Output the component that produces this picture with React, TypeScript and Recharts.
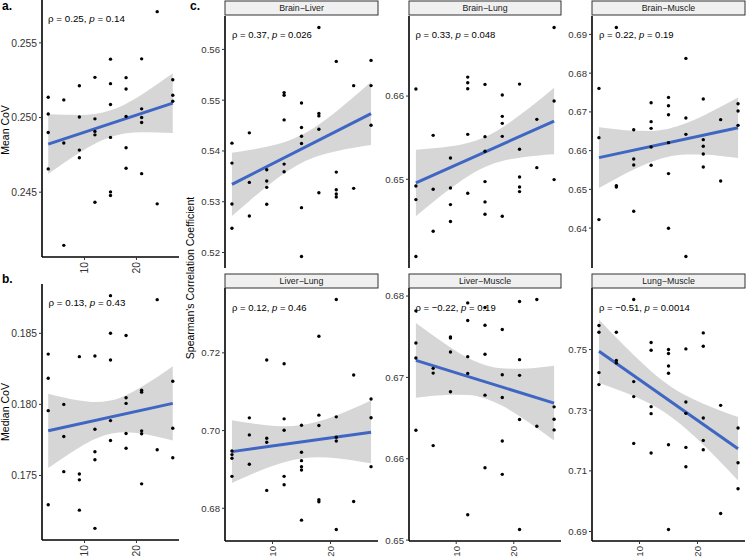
import { ComposedChart, XAxis, YAxis, Scatter, Area, Line } from "recharts";

const FONT = '"Liberation Sans", Arial, sans-serif';

// x positions shared by every panel
const xDomain = [1.8, 28.2];
const xTicks = [10, 20];
const bandX = [3, 6, 9, 12, 15, 18, 21, 24, 27];
const fitX = [3, 27];

// a. Mean CoV
const meanCovPts = [
  [3, 0.25136], [3, 0.25024], [3, 0.249], [3, 0.24656],
  [6, 0.25118], [6, 0.24829], [6, 0.24144],
  [9, 0.25213], [9, 0.25004], [9, 0.24782], [9, 0.24731],
  [12, 0.25269], [12, 0.24991], [12, 0.24907], [12, 0.24884], [12, 0.24433],
  [15, 0.25391], [15, 0.25227], [15, 0.25087], [15, 0.24867], [15, 0.24502], [15, 0.24478],
  [18, 0.25267], [18, 0.25191], [18, 0.25007], [18, 0.24798], [18, 0.2466],
  [21, 0.25393], [21, 0.25058], [21, 0.25], [21, 0.24967], [21, 0.24624],
  [24, 0.25709], [24, 0.24422],
  [27, 0.25253], [27, 0.25149], [27, 0.25109],
];
const meanCovLow = [0.24622, 0.24695, 0.24764, 0.24825, 0.2487, 0.24894, 0.24901, 0.249, 0.24896];
const meanCovHigh = [0.25022, 0.25018, 0.25017, 0.25024, 0.25048, 0.25093, 0.25153, 0.25222, 0.25296];
const meanCovFit = [0.24822, 0.25096];

// b. Median CoV
const medianCovPts = [
  [3, 0.18354], [3, 0.18184], [3, 0.17956], [3, 0.17294],
  [6, 0.18], [6, 0.17774], [6, 0.17527],
  [9, 0.18336], [9, 0.1751], [9, 0.17469], [9, 0.17256],
  [12, 0.1834], [12, 0.17825], [12, 0.17667], [12, 0.17611], [12, 0.17128],
  [15, 0.18765], [15, 0.18501], [15, 0.18312], [15, 0.17886], [15, 0.17746],
  [18, 0.18485], [18, 0.18047], [18, 0.18007], [18, 0.17795], [18, 0.17692],
  [21, 0.181], [21, 0.18086], [21, 0.17814], [21, 0.17793], [21, 0.17441],
  [24, 0.18737], [24, 0.17681],
  [27, 0.18163], [27, 0.17832], [27, 0.17625],
];
const medianCovLow = [0.17552, 0.17627, 0.17697, 0.17756, 0.17794, 0.17804, 0.17793, 0.17772, 0.17746];
const medianCovHigh = [0.18075, 0.18048, 0.18027, 0.18016, 0.18027, 0.18065, 0.18124, 0.18193, 0.18268];
const medianCovFit = [0.17814, 0.18007];

// c. Brain-Liver
const brainLiverPts = [
  [3, 0.54154], [3, 0.53761], [3, 0.52956], [3, 0.52478],
  [6, 0.54357], [6, 0.53381], [6, 0.5272],
  [9, 0.5363], [9, 0.53408], [9, 0.53283], [9, 0.5295],
  [12, 0.55149], [12, 0.55097], [12, 0.54612], [12, 0.53741], [12, 0.53591],
  [15, 0.54946], [15, 0.54462], [15, 0.54291], [15, 0.54147], [15, 0.52884], [15, 0.51921],
  [18, 0.56432], [18, 0.54737], [18, 0.54691], [18, 0.54429], [18, 0.53178],
  [21, 0.55764], [21, 0.53584], [21, 0.53237], [21, 0.53152], [21, 0.53093],
  [24, 0.55286], [24, 0.53264],
  [27, 0.55784], [27, 0.55287], [27, 0.54507],
];
const brainLiverLow = [0.5272, 0.53015, 0.53299, 0.53557, 0.53764, 0.53905, 0.53996, 0.54062, 0.54115];
const brainLiverHigh = [0.53964, 0.54017, 0.54082, 0.54173, 0.54314, 0.54522, 0.54779, 0.55063, 0.55358];
const brainLiverFit = [0.53342, 0.54737];

// c. Brain-Lung
const brainLungPts = [
  [3, 0.66084], [3, 0.6492], [3, 0.64756], [3, 0.64072],
  [6, 0.65528], [6, 0.6488], [6, 0.64376],
  [9, 0.65256], [9, 0.64896], [9, 0.64696], [9, 0.64492],
  [12, 0.66228], [12, 0.6616], [12, 0.66088], [12, 0.6554], [12, 0.64832],
  [15, 0.6614], [15, 0.65512], [15, 0.65336], [15, 0.64972], [15, 0.64728], [15, 0.6458],
  [18, 0.66012], [18, 0.65756], [18, 0.65672], [18, 0.65516], [18, 0.64556],
  [21, 0.66144], [21, 0.6536], [21, 0.65028], [21, 0.64908], [21, 0.64852],
  [24, 0.6572], [24, 0.6514],
  [27, 0.66824], [27, 0.6594], [27, 0.64996],
];
const brainLungLow = [0.64556, 0.64726, 0.64888, 0.65034, 0.65148, 0.6522, 0.6526, 0.65284, 0.653];
const brainLungHigh = [0.65356, 0.65372, 0.65396, 0.65436, 0.65508, 0.65622, 0.65768, 0.6593, 0.661];
const brainLungFit = [0.64956, 0.657];

// c. Brain-Muscle
const brainMusclePts = [
  [3, 0.67607], [3, 0.66335], [3, 0.6422],
  [6, 0.6918], [6, 0.65097], [6, 0.65063],
  [9, 0.66541], [9, 0.65785], [9, 0.6563], [9, 0.64435],
  [12, 0.67238], [12, 0.66748], [12, 0.66576], [12, 0.66094], [12, 0.65622],
  [15, 0.67375], [15, 0.6716], [15, 0.66928], [15, 0.66206], [15, 0.65407], [15, 0.63997],
  [18, 0.68381], [18, 0.66842], [18, 0.66421], [18, 0.63266],
  [21, 0.67332], [21, 0.66284], [21, 0.66112], [21, 0.65914], [21, 0.65579],
  [24, 0.668], [24, 0.65218],
  [27, 0.67212], [27, 0.67023], [27, 0.66653],
];
const brainMuscleLow = [0.65037, 0.65282, 0.65513, 0.65709, 0.65845, 0.65902, 0.65899, 0.65863, 0.65811];
const brainMuscleHigh = [0.66602, 0.6655, 0.66513, 0.6651, 0.66567, 0.66704, 0.669, 0.6713, 0.67375];
const brainMuscleFit = [0.6582, 0.66593];

// c. Liver-Lung
const liverLungPts = [
  [3, 0.69475], [3, 0.69381], [3, 0.69286], [3, 0.68821],
  [6, 0.70327], [6, 0.69888], [6, 0.69131],
  [9, 0.71815], [9, 0.69802], [9, 0.69699], [9, 0.6846],
  [12, 0.7172], [12, 0.70301], [12, 0.70009], [12, 0.68821], [12, 0.68606],
  [15, 0.70138], [15, 0.69441], [15, 0.69226], [15, 0.69071], [15, 0.68985], [15, 0.67695],
  [18, 0.72426], [18, 0.70396], [18, 0.70129], [18, 0.68219], [18, 0.68168],
  [21, 0.73372], [21, 0.70353], [21, 0.69828], [21, 0.69733], [21, 0.67454],
  [24, 0.71428], [24, 0.68176],
  [27, 0.7081], [27, 0.70328], [27, 0.69071],
];
const liverLungLow = [0.6865, 0.68852, 0.69035, 0.69185, 0.69282, 0.69313, 0.69289, 0.69232, 0.69157];
const liverLungHigh = [0.70267, 0.70192, 0.70135, 0.70111, 0.70142, 0.70238, 0.70388, 0.70572, 0.70774];
const liverLungFit = [0.69458, 0.69959];

// c. Liver-Muscle
const liverMusclePts = [
  [3, 0.67818], [3, 0.67423], [3, 0.67238], [3, 0.66351],
  [6, 0.67111], [6, 0.67053], [6, 0.66162],
  [9, 0.67497], [9, 0.67485], [9, 0.67312], [9, 0.66823],
  [12, 0.67916], [12, 0.67699], [12, 0.67255], [12, 0.67049], [12, 0.65311],
  [15, 0.67859], [15, 0.67641], [15, 0.67284], [15, 0.66782], [15, 0.6589],
  [18, 0.67588], [18, 0.67033], [18, 0.66753], [18, 0.66219], [18, 0.65808],
  [21, 0.67933], [21, 0.67218], [21, 0.67025], [21, 0.66482], [21, 0.6513],
  [24, 0.67958], [24, 0.664],
  [27, 0.66638], [27, 0.66486], [27, 0.66355],
];
const liverMuscleLow = [0.66749, 0.66773, 0.66787, 0.66783, 0.66741, 0.66651, 0.66524, 0.66378, 0.66223];
const liverMuscleHigh = [0.6767, 0.67515, 0.67369, 0.67242, 0.67152, 0.67111, 0.67106, 0.6712, 0.67144];
const liverMuscleFit = [0.6721, 0.66684];

// c. Lung-Muscle
const lungMusclePts = [
  [3, 0.75793], [3, 0.75573], [3, 0.7424], [3, 0.73844],
  [6, 0.75573], [6, 0.74637], [6, 0.7456],
  [9, 0.76651], [9, 0.73943], [9, 0.73448], [9, 0.71906],
  [12, 0.75231], [12, 0.74978], [12, 0.73117], [12, 0.72886], [12, 0.71587],
  [15, 0.75], [15, 0.74868], [15, 0.7446], [15, 0.74218], [15, 0.71862], [15, 0.69066],
  [18, 0.75022], [18, 0.73271], [18, 0.72897], [18, 0.71774], [18, 0.71136],
  [21, 0.7555], [21, 0.7511], [21, 0.72743], [21, 0.72005], [21, 0.71697],
  [24, 0.73161], [24, 0.69594],
  [27, 0.72413], [27, 0.71268], [27, 0.70409],
];
const lungMuscleLow = [0.73899, 0.73693, 0.73465, 0.73193, 0.72842, 0.7239, 0.71858, 0.71282, 0.70684];
const lungMuscleHigh = [0.75991, 0.75393, 0.74817, 0.74285, 0.73833, 0.73482, 0.7321, 0.72982, 0.72776];
const lungMuscleFit = [0.74945, 0.7173];

type PanelDef = {
  left: number; top: number; w: number; h: number; fs: number;
  domain: number[]; ticks: number[]; digits: number; xAxis: boolean;
  pts: number[][]; low: number[]; high: number[]; fit: number[];
};

const panels: PanelDef[] = [
  { left: 42, top: 0, w: 137, h: 257, fs: 10.3, domain: [0.24066, 0.25787], ticks: [0.245, 0.25, 0.255], digits: 3, xAxis: true,
    pts: meanCovPts, low: meanCovLow, high: meanCovHigh, fit: meanCovFit },
  { left: 42, top: 284, w: 137, h: 256, fs: 10.3, domain: [0.17046, 0.18847], ticks: [0.175, 0.18, 0.185], digits: 3, xAxis: true,
    pts: medianCovPts, low: medianCovLow, high: medianCovHigh, fit: medianCovFit },
  { left: 225, top: 16, w: 153, h: 252, fs: 9.6, domain: [0.51695, 0.56658], ticks: [0.52, 0.53, 0.54, 0.55, 0.56], digits: 2, xAxis: false,
    pts: brainLiverPts, low: brainLiverLow, high: brainLiverHigh, fit: brainLiverFit },
  { left: 409, top: 16, w: 152, h: 252, fs: 9.6, domain: [0.63934, 0.66962], ticks: [0.64, 0.65, 0.66], digits: 2, xAxis: false,
    pts: brainLungPts, low: brainLungLow, high: brainLungHigh, fit: brainLungFit },
  { left: 592, top: 16, w: 153, h: 252, fs: 9.6, domain: [0.6297, 0.69476], ticks: [0.63, 0.64, 0.65, 0.66, 0.67, 0.68, 0.69], digits: 2, xAxis: false,
    pts: brainMusclePts, low: brainMuscleLow, high: brainMuscleHigh, fit: brainMuscleFit },
  { left: 225, top: 288, w: 153, h: 253, fs: 9.6, domain: [0.67158, 0.73668], ticks: [0.68, 0.7, 0.72], digits: 2, xAxis: true,
    pts: liverLungPts, low: liverLungLow, high: liverLungHigh, fit: liverLungFit },
  { left: 409, top: 288, w: 152, h: 253, fs: 9.6, domain: [0.64989, 0.68099], ticks: [0.65, 0.66, 0.67, 0.68], digits: 2, xAxis: true,
    pts: liverMusclePts, low: liverMuscleLow, high: liverMuscleHigh, fit: liverMuscleFit },
  { left: 592, top: 288, w: 153, h: 253, fs: 9.6, domain: [0.68687, 0.7703], ticks: [0.69, 0.71, 0.73, 0.75], digits: 2, xAxis: true,
    pts: lungMusclePts, low: lungMuscleLow, high: lungMuscleHigh, fit: lungMuscleFit },
];

const strips = [
  { label: "Brain\u2212Liver", left: 225, top: 1, w: 153 },
  { label: "Brain\u2212Lung", left: 409, top: 1, w: 152 },
  { label: "Brain\u2212Muscle", left: 592, top: 1, w: 153 },
  { label: "Liver\u2212Lung", left: 225, top: 274, w: 153 },
  { label: "Liver\u2212Muscle", left: 409, top: 274, w: 152 },
  { label: "Lung\u2212Muscle", left: 592, top: 274, w: 153 },
];

const stats = [
  { rho: "0.25", p: "0.14", x: 48, y: 22, fs: 9.8 },
  { rho: "0.13", p: "0.43", x: 48.5, y: 306, fs: 9.8 },
  { rho: "0.37", p: "0.026", x: 232, y: 37.5, fs: 9.5 },
  { rho: "0.33", p: "0.048", x: 415.5, y: 37.5, fs: 9.5 },
  { rho: "0.22", p: "0.19", x: 599, y: 37.5, fs: 9.5 },
  { rho: "0.12", p: "0.46", x: 232, y: 311, fs: 9.5 },
  { rho: "\u22120.22", p: "0.19", x: 415.5, y: 311, fs: 9.5 },
  { rho: "\u22120.51", p: "0.0014", x: 599, y: 311, fs: 9.5 },
];

const Dot = (props: any) => <circle cx={props.cx} cy={props.cy} r={1.7} fill="#000" />;

const makeXTick = (fs: number) => (props: any) => {
  const { x, y, payload } = props;
  return (
    <text x={x} y={y} transform={`rotate(-90 ${x} ${y})`} textAnchor="end" dy="0.35em"
      fill="#333" fontSize={fs} fontFamily={FONT}>
      {payload.value}
    </text>
  );
};

function Panel({ p }: { p: PanelDef }) {
  const yw = 40;
  const xh = p.xAxis ? 22 : 0;
  const pts = p.pts.map(([x, y]) => ({ x, y }));
  const band = bandX.map((x, i) => ({ x, range: [p.low[i], p.high[i]] }));
  const fit = fitX.map((x, i) => ({ x, y: p.fit[i] }));
  return (
    <div style={{ position: "absolute", left: p.left - yw, top: p.top }}>
      <ComposedChart width={yw + p.w} height={p.h + xh} margin={{ top: 0, right: 0, bottom: 0, left: 0 }}>
        <XAxis
          type="number" dataKey="x" domain={xDomain} ticks={xTicks} allowDataOverflow
          hide={!p.xAxis} height={xh || undefined}
          axisLine={{ stroke: "#000", strokeWidth: 1.6 }}
          tickLine={{ stroke: "#333", strokeWidth: 1 }}
          tickSize={3} tickMargin={2} tick={makeXTick(p.fs)}
        />
        <YAxis
          type="number" dataKey="y" domain={p.domain} ticks={p.ticks} allowDataOverflow width={yw}
          axisLine={{ stroke: "#000", strokeWidth: 1.6 }}
          tickLine={{ stroke: "#333", strokeWidth: 1 }}
          tickSize={3} tickMargin={2}
          tick={{ fill: "#333", fontSize: p.fs, fontFamily: FONT }}
          tickFormatter={(v: number) => v.toFixed(p.digits)}
        />
        <Scatter data={pts} dataKey="y" shape={Dot} isAnimationActive={false} />
        <Area data={band} dataKey="range" type="monotone" fill="#999999" fillOpacity={0.4}
          stroke="none" isAnimationActive={false} />
        <Line data={fit} dataKey="y" stroke="#3f66c2" strokeWidth={3} dot={false} isAnimationActive={false} />
      </ComposedChart>
    </div>
  );
}

export default function App() {
  return (
    <div style={{ position: "absolute", left: 0, top: 0, width: 746, height: 557, background: "#fff", fontFamily: FONT }}>
      {panels.map((p, i) => <Panel key={i} p={p} />)}
      <svg width={746} height={557} style={{ position: "absolute", left: 0, top: 0, pointerEvents: "none" }}>
        <text x={2} y={10} fontSize={12} fontWeight="bold" fontFamily={FONT}>a.</text>
        <text x={2} y={283} fontSize={12} fontWeight="bold" fontFamily={FONT}>b.</text>
        <text x={190} y={10} fontSize={12} fontWeight="bold" fontFamily={FONT}>c.</text>
        <text x={8.5} y={130} transform="rotate(-90 8.5 130)" textAnchor="middle" fontSize={10.5} fontFamily={FONT}>Mean CoV</text>
        <text x={8.5} y={412} transform="rotate(-90 8.5 412)" textAnchor="middle" fontSize={10.5} fontFamily={FONT}>Median CoV</text>
        <text x={194} y={278} transform="rotate(-90 194 278)" textAnchor="middle" fontSize={10.5} fontFamily={FONT}>
          Spearman's Correlation Coefficient
        </text>
        {strips.map((s) => (
          <g key={s.label}>
            <rect x={s.left} y={s.top} width={s.w} height={14} fill="#f0f0f0" stroke="#333" strokeWidth={1} />
            <text x={s.left + s.w / 2} y={s.top + 10.3} textAnchor="middle" fontSize={8.8} fill="#1a1a1a" fontFamily={FONT}>
              {s.label}
            </text>
          </g>
        ))}
        {stats.map((s, i) => (
          <text key={i} x={s.x} y={s.y} fontSize={s.fs} fill="#000" fontFamily={FONT}>
            {"\u03c1 = " + s.rho + ", "}
            <tspan fontStyle="italic">p</tspan>
            {" = " + s.p}
          </text>
        ))}
      </svg>
    </div>
  );
}
